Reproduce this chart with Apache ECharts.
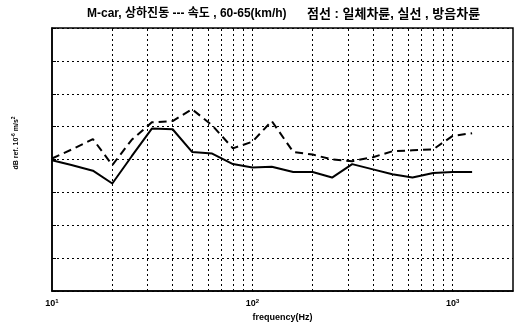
<!DOCTYPE html>
<html>
<head>
<meta charset="utf-8">
<script src="https://cdn.jsdelivr.net/npm/echarts@6/dist/echarts.min.js"></script>
<style>html,body{margin:0;padding:0;background:#fff;}#c{width:516px;height:323px;}</style>
</head>
<body>
<div id="c"></div>
<script>
const freqs = [10, 12.5, 16, 20, 25, 31.5, 40, 50, 63, 80, 100, 125, 160, 200, 250, 315, 400, 500, 630, 800, 1000, 1250];
const dashedSeries = [40.3, 43.0, 46.2, 38.3, 46.0, 51.3, 51.7, 55.3, 50.4, 43.4, 45.4, 51.7, 42.3, 41.5, 40.0, 39.5, 40.7, 42.5, 42.8, 43.1, 47.2, 48.0];
const solidSeries = [39.8, 38.3, 36.6, 32.7, 41.0, 49.4, 49.2, 42.3, 41.8, 38.6, 37.6, 37.8, 36.2, 36.2, 34.5, 38.6, 37.0, 35.5, 34.5, 35.9, 36.2, 36.2];
const gridFreqs = [20, 30, 40, 50, 60, 70, 80, 90, 100, 200, 300, 400, 500, 600, 700, 800, 900, 1000];
const titlePart1 = 'M-car, 상하진동 --- 속도 , 60-65(km/h)';
const titlePart2 = '점선 : 일체차륜, 실선 , 방음차륜';
const xName = 'frequency(Hz)';

const FONT = '"Liberation Sans", "Noto Sans CJK KR", sans-serif';
const chart = echarts.init(document.getElementById('c'));
const pairs = arr => freqs.map((f, i) => [f, arr[i]]);
chart.setOption({
  animation: false,
  backgroundColor: '#fff',
  grid: { left: 52, right: 3, top: 28, bottom: 32, show: true, borderColor: '#000', borderWidth: 1.5, outerBoundsMode: 'none', containLabel: false },
  xAxis: {
    type: 'log', logBase: 10, min: 10, max: 2000,
    name: xName, nameLocation: 'middle', nameGap: 16,
    nameTextStyle: { fontFamily: FONT, fontSize: 9, fontWeight: 'bold', color: '#000' },
    axisLine: { lineStyle: { color: '#000', width: 1.5 } },
    axisTick: { show: false },
    splitLine: { show: false },
    axisLabel: {
      margin: 7,
      formatter: v => {
        const e = Math.round(Math.log10(v));
        if (Math.abs(Math.pow(10, e) - v) > 1e-6 * v) return '';
        return '{b|10}{s|' + e + '}';
      },
      rich: {
        b: { fontFamily: FONT, fontSize: 9, fontWeight: 'bold', color: '#000' },
        s: { fontFamily: FONT, fontSize: 6, fontWeight: 'bold', color: '#000', padding: [0, 0, 6, 0] }
      }
    }
  },
  yAxis: {
    type: 'value', min: 0, max: 80, interval: 10,
    axisLine: { show: true, lineStyle: { color: '#000', width: 1.5 } },
    axisTick: { show: true, inside: true, length: 4, lineStyle: { color: '#000' } },
    axisLabel: { show: false },
    splitLine: { show: true, lineStyle: { color: '#000', type: [2, 3], width: 1 } }
  },
  graphic: [
    {
      type: 'text', x: 87, y: 14,
      style: { text: titlePart1, fontFamily: FONT, fontSize: 12, fontWeight: 'bold', fill: '#000', align: 'left', verticalAlign: 'middle' }
    },
    {
      type: 'text', x: 307, y: 14,
      style: { text: titlePart2, fontFamily: FONT, fontSize: 13, fontWeight: 'bold', fill: '#000', align: 'left', verticalAlign: 'middle' }
    },
    {
      type: 'text', x: 16, y: 143, rotation: Math.PI / 2,
      style: {
        text: '{a|dB ref. 10}{s|-6}{a| m/s}{s|2}',
        align: 'center', verticalAlign: 'middle',
        rich: {
          a: { fontFamily: FONT, fontSize: 7, fontWeight: 'bold', fill: '#000' },
          s: { fontFamily: FONT, fontSize: 5, fontWeight: 'bold', fill: '#000', padding: [0, 0, 4, 0] }
        }
      }
    }
  ],
  series: [
    {
      type: 'line', data: pairs(dashedSeries), symbol: 'none',
      lineStyle: { color: '#000', width: 2, type: [8, 5] },
      markLine: {
        silent: true, symbol: 'none', label: { show: false },
        lineStyle: { color: '#000', type: [2, 3], width: 1 },
        data: gridFreqs.map(f => ({ xAxis: f }))
      }
    },
    {
      type: 'line', data: pairs(solidSeries), symbol: 'none',
      lineStyle: { color: '#000', width: 2, type: 'solid' }
    }
  ]
});
</script>
</body>
</html>
